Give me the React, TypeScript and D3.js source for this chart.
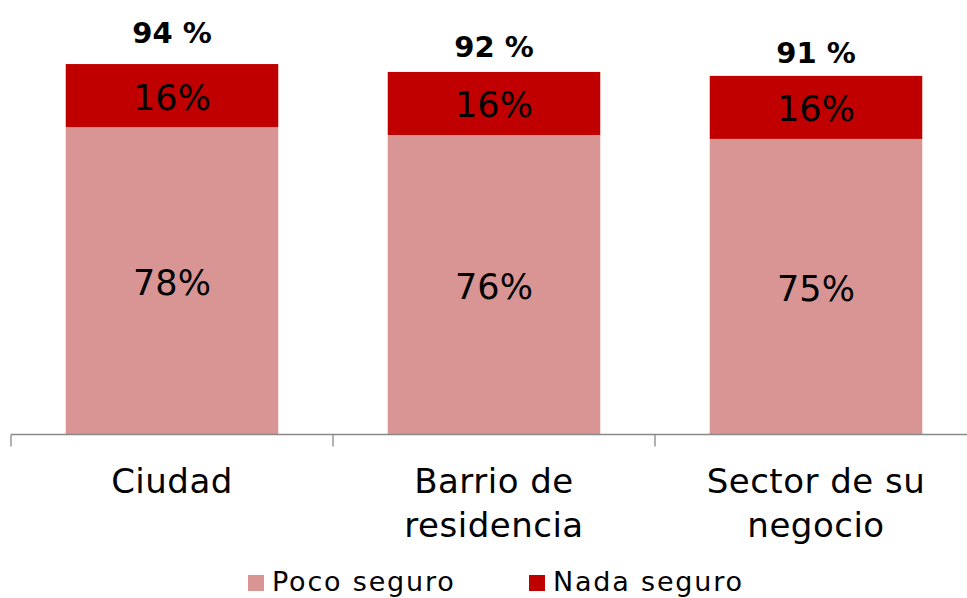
import React from "react";
import * as d3 from "d3";

const categories: string[][] = [["Ciudad"], ["Barrio de", "residencia"], ["Sector de su", "negocio"]];
const categoryKeys = ["Ciudad", "Barrio de residencia", "Sector de su negocio"];
const pocoSeguro = [78, 76, 75];
const nadaSeguro = [16, 16, 16];
const totals = [94, 92, 91];
const totalLabelGap = [21, 15, 13];
const seriesNames = ["Poco seguro", "Nada seguro"];
const colors = ["#D99594", "#C00000"];

const W = 967;
const H = 598;
const FONT = "'DejaVu Sans', sans-serif";

export default function App() {
  const x = d3.scaleBand<string>().domain(categoryKeys).range([11, 977]).paddingInner(0.34).paddingOuter(0.17);
  const y = d3.scaleLinear().domain([0, 100]).range([434.5, 40.4]);
  const step = x.step();
  const tickXs = d3.range(categoryKeys.length + 1).map((i) => 11 + i * step);

  const stack = categoryKeys.map((k, i) => {
    const a = pocoSeguro[i];
    const b = nadaSeguro[i];
    return [
      { y0: 0, y1: a, v: a, c: colors[0] },
      { y0: a, y1: a + b, v: b, c: colors[1] },
    ];
  });

  return (
    <svg width={W} height={H} style={{ position: "absolute", left: 0, top: 0 }}>
      <rect x={0} y={0} width={W} height={H} fill="#fff" />
      {categoryKeys.map((k, i) => (
        <g key={k}>
          {stack[i].map((s, j) => (
            <g key={j}>
              <rect x={x(k)} y={y(s.y1)} width={x.bandwidth()} height={y(s.y0) - y(s.y1)} fill={s.c} />
              <text
                x={(x(k) as number) + x.bandwidth() / 2}
                y={(y(s.y0) + y(s.y1)) / 2 + 14}
                textAnchor="middle"
                fontFamily={FONT}
                fontSize={35}
                fill="#000"
              >
                {s.v}%
              </text>
            </g>
          ))}
          <text
            x={(x(k) as number) + x.bandwidth() / 2}
            y={y(totals[i]) - totalLabelGap[i]}
            textAnchor="middle"
            fontFamily={FONT}
            fontWeight="bold"
            fontSize={29}
            fill="#000"
          >
            {totals[i]} %
          </text>
          {categories[i].map((line, li) => (
            <text
              key={li}
              x={(x(k) as number) + x.bandwidth() / 2}
              y={493 + li * 44}
              textAnchor="middle"
              fontFamily={FONT}
              fontSize={34}
              letterSpacing={0.5}
              fill="#000"
            >
              {line}
            </text>
          ))}
        </g>
      ))}
      <line x1={11} x2={W} y1={y(0)} y2={y(0)} stroke="#898989" strokeWidth={1.3} />
      {tickXs.map((tx, i) => (
        <line key={i} x1={tx} x2={tx} y1={y(0)} y2={y(0) + 12} stroke="#898989" strokeWidth={1.3} />
      ))}
      {seriesNames.map((n, i) => (
        <g key={n} transform={`translate(${i === 0 ? 248 : 529},0)`}>
          <rect x={0} y={575} width={16} height={16} fill={colors[i]} />
          <text x={24} y={591} fontFamily={FONT} fontSize={27} letterSpacing={1.8} fill="#000">
            {n}
          </text>
        </g>
      ))}
    </svg>
  );
}
